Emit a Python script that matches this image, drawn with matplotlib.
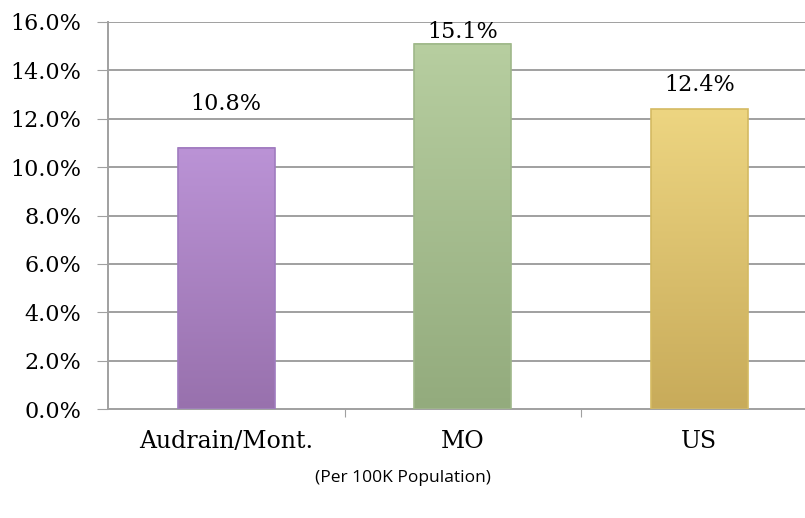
import matplotlib.pyplot as plt
import numpy as np
from matplotlib.colors import LinearSegmentedColormap
from matplotlib.ticker import FuncFormatter

categories = ['Audrain/Mont.', 'MO', 'US']
values = [10.8, 15.1, 12.4]
top_colors = ['#bb93d6', '#b7cea0', '#edd581']
bottom_colors = ['#9871ad', '#93ab7d', '#c8ab5a']
edge_colors = ['#a07cbf', '#9fb88a', '#d4ba62']
# label gap above each bar (in data units), as placed in the original
label_gaps = [1.35, 0.05, 0.55]

fig = plt.figure(figsize=(8.05, 5.18), dpi=100)
ax = fig.add_axes([108 / 805, 1 - 409 / 518, 697 / 805, 387 / 518])

x = np.arange(len(categories))
width = 0.41
grid_c = '#a0a0a0'
serif = 'DejaVu Serif'

for yv in np.arange(2, 17, 2):
    ax.axhline(yv, color=grid_c, lw=1.4, zorder=1)

for i, v in enumerate(values):
    cmap = LinearSegmentedColormap.from_list('g', [bottom_colors[i], top_colors[i]])
    grad = np.linspace(0, 1, 256).reshape(-1, 1)
    ax.imshow(grad, cmap=cmap, origin='lower', aspect='auto',
              extent=[x[i] - width / 2, x[i] + width / 2, 0, v], zorder=2)
    ax.bar(x[i], v, width, facecolor='none', edgecolor=edge_colors[i], lw=1.2, zorder=3)
    ax.text(x[i], v + label_gaps[i], f'{v:.1f}%', ha='center', va='bottom',
            fontsize=16, family=serif, zorder=4)

ax.set_xlim(-0.5, 697 / 236.5 - 0.5)
ax.set_ylim(0, 16)
ax.set_yticks(np.arange(0, 17, 2))
ax.yaxis.set_major_formatter(FuncFormatter(lambda v, p: f'{v:.1f}%'))
ax.set_xticks([0.5, 1.5])
ax.set_xticklabels([])
ax.set_xticks(x, minor=True)
ax.set_xticklabels(categories, minor=True)
ax.tick_params(axis='x', which='minor', length=0, pad=15, labelsize=17)
ax.tick_params(axis='x', which='major', length=6, color=grid_c, direction='out')
ax.tick_params(axis='y', length=8, color=grid_c, direction='out', pad=11, labelsize=16)
for lab in ax.get_yticklabels() + ax.get_xticklabels(minor=True):
    lab.set_family(serif)

for s in ['top', 'right']:
    ax.spines[s].set_visible(False)
ax.spines['left'].set_color(grid_c)
ax.spines['bottom'].set_color(grid_c)
ax.spines['left'].set_linewidth(1.4)
ax.spines['bottom'].set_linewidth(1.4)

fig.text(403 / 805, 1 - 478 / 518, '(Per 100K Population)', ha='center', va='center',
         fontsize=12.5, family='Open Sans')

fig.savefig('out.png', dpi=100)
